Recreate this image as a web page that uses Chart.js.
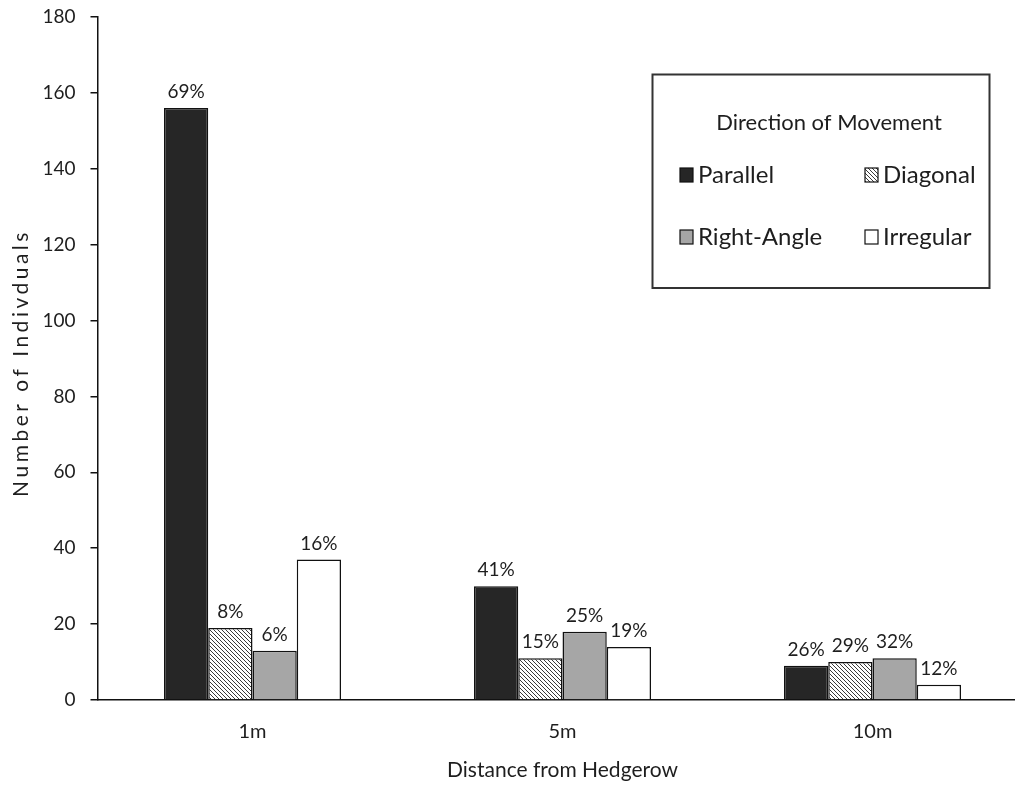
<!DOCTYPE html>
<html>
<head>
<meta charset="utf-8">
<script src="https://cdn.jsdelivr.net/npm/chart.js@4/dist/chart.umd.min.js"></script>
<style>
  html, body { margin: 0; padding: 0; background: #fff; overflow: hidden; }
  #wrap { width: 1030px; height: 785px; position: relative; }
</style>
</head>
<body>
<div id="wrap"><canvas id="c"></canvas></div>
<script>
// ---- data ----
const categories = ['1m', '5m', '10m'];
const seriesNames = ['Parallel', 'Diagonal', 'Right-Angle', 'Irregular'];
const parallel = [156, 30, 9];
const diagonal = [19, 11, 10];
const rightAngle = [13, 18, 11];
const irregular = [37, 14, 4];
const parallelPct = ['69%', '41%', '26%'];
const diagonalPct = ['8%', '15%', '29%'];
const rightAnglePct = ['6%', '25%', '32%'];
const irregularPct = ['16%', '19%', '12%'];
const yMin = 0, yMax = 180, yStep = 20;
const legendTitle = 'Direction of Movement';
const xTitle = 'Distance from Hedgerow';
const yTitle = 'Number of Indivduals';

const FONT = 'Lato, "Open Sans", sans-serif';
const TEXT = '#1e1e1e';

function hatch() {
  const n = 4;
  const c = document.createElement('canvas');
  c.width = n; c.height = n;
  const g = c.getContext('2d');
  g.fillStyle = '#ffffff';
  g.fillRect(0, 0, n, n);
  g.strokeStyle = '#3a3a3a';
  g.lineWidth = 1;
  g.beginPath();
  g.moveTo(-1, -1); g.lineTo(n + 1, n + 1);
  g.moveTo(-1, n - 1); g.lineTo(1, n + 1);
  g.moveTo(n - 1, -1); g.lineTo(n + 1, 1);
  g.stroke();
  return document.getElementById('c').getContext('2d').createPattern(c, 'repeat');
}
const hatchPattern = hatch();

const fills = ['#262626', hatchPattern, '#a6a6a6', '#ffffff'];
const values = [parallel, diagonal, rightAngle, irregular];
const pcts = [parallelPct, diagonalPct, rightAnglePct, irregularPct];

const datasets = seriesNames.map((name, i) => ({
  label: name,
  data: values[i],
  pcts: pcts[i],
  backgroundColor: fills[i],
  borderColor: '#111111',
  borderWidth: 1.5,
  categoryPercentage: 0.571,
  barPercentage: 1.0
}));

const labelPlugin = {
  id: 'pctLabels',
  afterDatasetsDraw(chart) {
    const ctx = chart.ctx;
    ctx.save();
    ctx.font = '19px ' + FONT;
    ctx.fillStyle = TEXT;
    ctx.textAlign = 'center';
    ctx.textBaseline = 'alphabetic';
    chart.data.datasets.forEach((ds, di) => {
      const meta = chart.getDatasetMeta(di);
      meta.data.forEach((el, i) => {
        ctx.fillText(ds.pcts[i], el.x, el.y - 10);
      });
    });
    ctx.restore();
  }
};

const yTitlePlugin = {
  id: 'yTitle',
  afterDraw(chart) {
    const ctx = chart.ctx;
    ctx.save();
    ctx.translate(21, 363);
    ctx.rotate(-Math.PI / 2);
    ctx.font = '21px ' + FONT;
    if ('letterSpacing' in ctx) ctx.letterSpacing = '3.5px';
    ctx.fillStyle = TEXT;
    ctx.textAlign = 'center';
    ctx.textBaseline = 'middle';
    ctx.fillText(yTitle, 0, 0);
    ctx.restore();
  }
};

const legendPlugin = {
  id: 'boxLegend',
  afterDraw(chart) {
    const ctx = chart.ctx;
    ctx.save();
    const bx = 652.5, by = 74.5, bw = 337, bh = 213.5;
    ctx.strokeStyle = '#333333';
    ctx.lineWidth = 2;
    ctx.strokeRect(bx, by, bw, bh);
    ctx.fillStyle = TEXT;
    ctx.font = '22px ' + FONT;
    ctx.textAlign = 'center';
    ctx.textBaseline = 'middle';
    ctx.fillText(legendTitle, 829, 123);
    const cols = [680, 865];
    const rows = [175, 237];
    ctx.font = '24px ' + FONT;
    ctx.textAlign = 'left';
    chart.data.datasets.forEach((ds, i) => {
      const x = cols[i % 2], y = rows[Math.floor(i / 2)];
      ctx.fillStyle = ds.backgroundColor;
      ctx.fillRect(x, y - 7, 13, 14);
      ctx.strokeStyle = '#111111';
      ctx.lineWidth = 1.2;
      ctx.strokeRect(x, y - 7, 13, 14);
      ctx.fillStyle = TEXT;
      ctx.fillText(ds.label, x + 18, y);
    });
    ctx.restore();
  }
};

new Chart(document.getElementById('c'), {
  type: 'bar',
  data: { labels: categories, datasets },
  options: {
    responsive: true,
    maintainAspectRatio: false,
    devicePixelRatio: 1,
    animation: false,
    layout: { padding: { top: 17, right: 2.5, bottom: 0, left: 0 } },
    plugins: { legend: { display: false }, tooltip: { enabled: false } },
    scales: {
      x: {
        grid: { display: false, drawTicks: false },
        border: { display: true, color: '#111111', width: 1.5 },
        ticks: { color: TEXT, font: { family: FONT, size: 20 }, padding: 20 },
        title: { display: true, text: xTitle, color: TEXT,
                 font: { family: FONT, size: 21 }, padding: { top: 0, bottom: 2 } },
        afterFit(s) { s.height = 85; s.paddingLeft = 0; s.paddingRight = 0; }
      },
      y: {
        min: yMin, max: yMax,
        grid: { drawOnChartArea: false, drawTicks: true, tickLength: 7, color: '#111111', lineWidth: 1.5 },
        border: { display: true, color: '#111111', width: 1.5 },
        ticks: { stepSize: yStep, color: TEXT, font: { family: FONT, size: 19 }, padding: 15 },
        title: { display: false },
        afterFit(s) { s.width = 97.5; s.paddingTop = 0; s.paddingBottom = 0; }
      }
    }
  },
  plugins: [labelPlugin, legendPlugin, yTitlePlugin]
});
</script>
</body>
</html>
